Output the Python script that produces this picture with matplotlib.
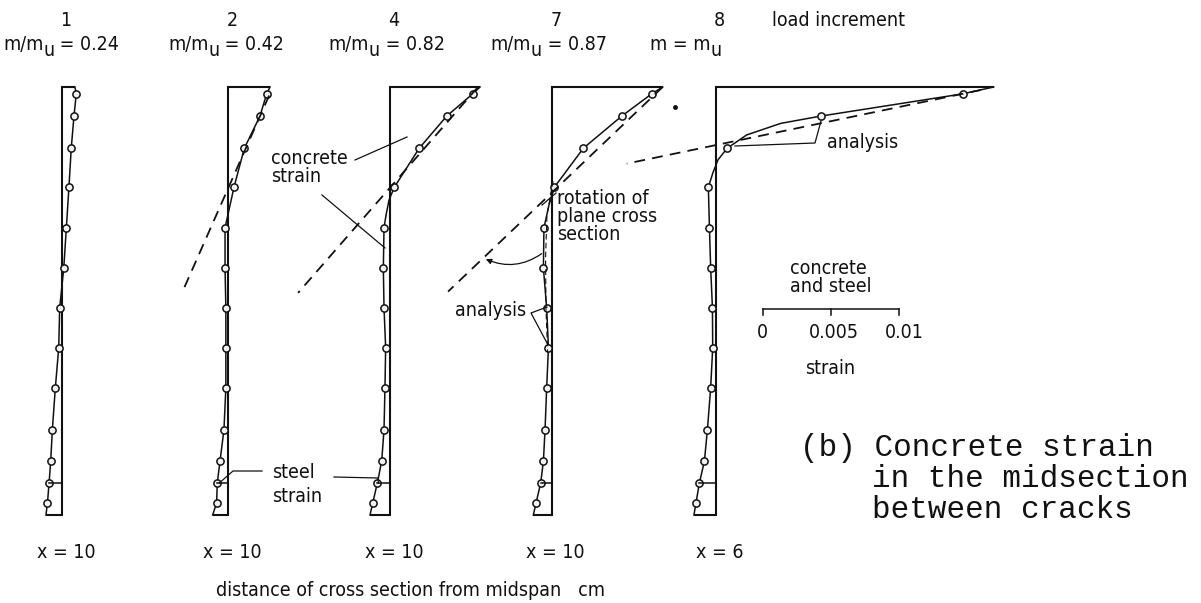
import matplotlib
matplotlib.use('Agg')
import matplotlib.pyplot as plt
from matplotlib import font_manager
from matplotlib.font_manager import FontProperties
from matplotlib.patches import FancyArrowPatch

W, H, DPI = 1201, 603, 100
INK = '#111111'

# pick a condensed sans face if one is installed
narrow_path = None
pref = ['liberationsansnarrow-regular', 'dejavusanscondensed.ttf', 'robotocondensed-regular',
        'opensans_condensed', 'opensans-condensed', 'condensed', 'narrow']
files = [f.fname for f in font_manager.fontManager.ttflist]
for key in pref:
    hits = [p for p in files if key in p.lower().replace(' ', '')
            and 'bold' not in p.lower() and 'italic' not in p.lower() and 'oblique' not in p.lower()
            and 'light' not in p.lower()]
    if hits:
        narrow_path = sorted(hits)[0]
        break
names = {f.name for f in font_manager.fontManager.ttflist}
MONO = 'Liberation Mono' if 'Liberation Mono' in names else 'DejaVu Sans Mono'

# ---------------- data ----------------
# measuring points: depth as fraction of the section height (0 = top, 1 = bottom)
depth = [0.016, 0.068, 0.143, 0.234, 0.329, 0.423, 0.516, 0.609, 0.703, 0.801, 0.874, 0.925, 0.972]
steel_index = 11
load_steps = ['1', '2', '4', '7', '8']
moment_values = ['0.24', '0.42', '0.82', '0.87', None]
x_labels = ['x = 10', 'x = 10', 'x = 10', 'x = 10', 'x = 6']

# measured strain, units of 1e-3
strain_1 = [1.05, 0.88, 0.68, 0.51, 0.32, 0.13, -0.17, -0.24, -0.49, -0.71, -0.83, -0.95, -1.07]
strain_2 = [2.82, 2.33, 1.18, 0.42, -0.24, -0.24, -0.18, -0.18, -0.18, -0.32, -0.61, -0.81, -0.86]
strain_4 = [6.08, 4.17, 2.15, 0.32, -0.44, -0.49, -0.44, -0.32, -0.37, -0.44, -0.61, -0.93, -1.27]
strain_7 = [7.35, 5.15, 2.33, 0.20, -0.57, -0.61, -0.37, -0.24, -0.37, -0.49, -0.61, -0.81, -1.15]
strain_8 = [18.16, 7.72, 0.85, -0.54, -0.46, -0.37, -0.24, -0.22, -0.37, -0.61, -0.83, -1.20, -1.45]
strains = [strain_1, strain_2, strain_4, strain_7, strain_8]
top_strain = [0.95, 3.07, 6.62, 8.16, 20.44]
bottom_strain = [-1.18, -1.15, -1.47, -1.35, -1.60]

# extra points read along the bends of the drawn curves (strain, depth)
bend_4 = [(-0.07, 0.264), (-0.29, 0.299)]
bend_7 = [(-0.20, 0.276)]
bend_8 = [(4.78, 0.085), (2.28, 0.112), (0.17, 0.170), (-0.20, 0.200)]
bends = [[], [], bend_4, bend_7, bend_8]

# analysis curve near the measured profile, increment 7
analysis_7_strain = [0.10, -0.35, -0.45, -0.42, -0.30]
analysis_7_depth = [0.22, 0.30, 0.40, 0.52, 0.62]

# plane-section (dashed) lines: (strain at start, depth at start, strain at end, depth at end)
plane_2 = (3.0, 0.02, -3.31, 0.474)
plane_4 = (6.47, 0.0, -6.76, 0.481)
plane_7 = (8.16, 0.0, -7.62, 0.478)
plane_8 = (19.5, 0.007, -6.54, 0.179)
planes = [None, plane_2, plane_4, plane_7, plane_8]

# scale bar
scale_ticks = [0, 5, 10]
scale_labels = ['0', '0.005', '0.01']

# ---------------- layout ----------------
PX_PER_UNIT = 13.6           # pixels per 1e-3 strain
Y_TOP, Y_BOT = 87, 515       # section top / bottom in pixels
zero_x = [62, 228.3, 390, 551.7, 715.7]

fig = plt.figure(figsize=(W / DPI, H / DPI), dpi=DPI)
fig.patch.set_facecolor('white')


def fx(x):
    return x / W


def fy(y):
    return 1 - y / H


def overlay(x0):
    ax = fig.add_axes([0, 0, 1, 1], facecolor='none')
    ax.set_xlim(-x0 / PX_PER_UNIT, (W - x0) / PX_PER_UNIT)
    hgt = Y_BOT - Y_TOP
    ax.set_ylim((H - Y_TOP) / hgt, -Y_TOP / hgt)
    ax.axis('off')
    return ax


def u(px):
    return px / PX_PER_UNIT


def d(py):
    return (py - Y_TOP) / (Y_BOT - Y_TOP)


def tprops(size=12.5):
    if narrow_path:
        fp = FontProperties(fname=narrow_path, size=size * 1.12)
    else:
        fp = FontProperties(family='DejaVu Sans', size=size)
    return dict(fontproperties=fp, color=INK)


def label(x, y, s, ha='left', size=12.5):
    return fig.text(fx(x), fy(y), s, ha=ha, va='center', **tprops(size))


def seq_text(x, y, pieces, size=12.5):
    """pieces: list of (string, dy_px) written one after another"""
    r = fig.canvas.get_renderer()
    cx = x
    for s, dy in pieces:
        t = fig.text(fx(cx), fy(y + dy), s, ha='left', va='center', **tprops(size))
        cx += t.get_window_extent(renderer=r).width


axes = []
for i in range(5):
    ax = overlay(zero_x[i])
    axes.append(ax)
    s = strains[i]
    ax.plot([top_strain[i], 0, 0, bottom_strain[i]], [0, 0, 1, 1], color=INK, lw=1.5,
            solid_joinstyle='miter', solid_capstyle='butt')
    pts = [(top_strain[i], 0.0)] + list(zip(s, depth)) + list(bends[i]) + [(bottom_strain[i], 1.0)]
    pts.sort(key=lambda p: p[1])
    ax.plot([p[0] for p in pts], [p[1] for p in pts], color=INK, lw=1.1)
    ax.plot(s, depth, 'o', ms=5.2, mfc='#f2f2f2', mec=INK, mew=1.1, color=INK)
    ax.plot([0, s[steel_index]], [depth[steel_index]] * 2, color=INK, lw=1.1)
    if planes[i] is not None:
        a, b, c, e = planes[i]
        ax.plot([a, c], [b, e], color=INK, lw=1.3, linestyle=(0, (6, 4)))
    label(zero_x[i] + 4, 20, load_steps[i], ha='center')
    label(zero_x[i] + 4, 553, x_labels[i], ha='center')

axes[3].plot(analysis_7_strain, analysis_7_depth, color=INK, lw=0.8, linestyle=(0, (5, 3)))

mx = [3, 168, 328, 490, 650]
for i in range(5):
    if moment_values[i] is not None:
        seq_text(mx[i], 44, [('m/m', 0), ('u', 6), (' = ' + moment_values[i], 0)])
    else:
        seq_text(mx[i], 44, [('m = m', 0), ('u', 6)])

label(772, 20, 'load increment')
label(411, 590, 'distance of cross section from midspan   cm', ha='center')

# annotations panel 4 / 2
a2, a3 = axes[1], axes[2]
label(271, 159, 'concrete')
label(271, 177, 'strain')
a3.plot([u(355 - 390), u(407 - 390)], [d(160), d(137)], color=INK, lw=0.9)
a3.plot([u(322 - 390), u(385 - 390)], [d(195), d(248)], color=INK, lw=0.9)

label(272, 473, 'steel')
label(272, 496, 'strain')
a2.plot([u(262 - 228.3), u(233 - 228.3), u(strain_2[steel_index] * PX_PER_UNIT + 2)],
        [d(471), d(471), d(483)], color=INK, lw=0.9)
a3.plot([u(334 - 390), u(378 - 390), u(strain_4[steel_index] * PX_PER_UNIT + 1)],
        [d(477), d(478), d(483)], color=INK, lw=0.9)

# annotations panel 7
a4 = axes[3]
for k, line in enumerate(['rotation of', 'plane cross', 'section']):
    label(557, 199 + 18 * k, line)
a4.plot([u(556 - 551.7), u(542 - 551.7)], [d(193), d(205)], color=INK, lw=0.9)
pa, pb, pc, pe = plane_7
t_arc = (d(258) - pb) / (pe - pb)
arc_end = (pa + t_arc * (pc - pa), d(258))
arc = FancyArrowPatch((u(544 - 551.7), d(252)), arc_end,
                      connectionstyle='arc3,rad=-0.3', arrowstyle='-|>', mutation_scale=8,
                      color=INK, lw=0.9)
a4.add_patch(arc)
label(455, 311, 'analysis')
a4.plot([u(547 - 551.7), u(531 - 551.7), u(547 - 551.7)], [d(307), d(313), d(343)], color=INK, lw=0.9)

# annotations panel 8
a5 = axes[4]
label(827, 142, 'analysis')
a5.plot([u(735 - 715.7), u(815 - 715.7), u(821 - 715.7)], [d(146), d(143), d(121)], color=INK, lw=0.9)
a5.plot([u(675 - 715.7)], [d(107)], 'o', ms=2.5, color=INK)

# strain scale bar
sx0 = 762.7
sb = fig.add_axes([0, 0, 1, 1], facecolor='none')
sb.set_xlim(-sx0 / PX_PER_UNIT, (W - sx0) / PX_PER_UNIT)
sb.set_ylim(H, 0)
sb.axis('off')
sb.plot([scale_ticks[0], scale_ticks[-1]], [309, 309], color=INK, lw=1.1)
for t, lab in zip(scale_ticks, scale_labels):
    sb.plot([t, t], [309, 315], color=INK, lw=1.1)
    label(sx0 + t * PX_PER_UNIT + 0.6 * t, 333, lab, ha='center')
label(790, 268, 'concrete')
label(790, 286, 'and steel')
label(830, 368, 'strain', ha='center')

# caption
CAP = dict(family=MONO, color=INK, fontsize=22.3)
fig.text(fx(800), fy(448), '(b) Concrete strain', ha='left', va='center', **CAP)
fig.text(fx(872), fy(479), 'in the midsection', ha='left', va='center', **CAP)
fig.text(fx(872), fy(510), 'between cracks', ha='left', va='center', **CAP)

fig.savefig('out.png', dpi=DPI, facecolor='white')
